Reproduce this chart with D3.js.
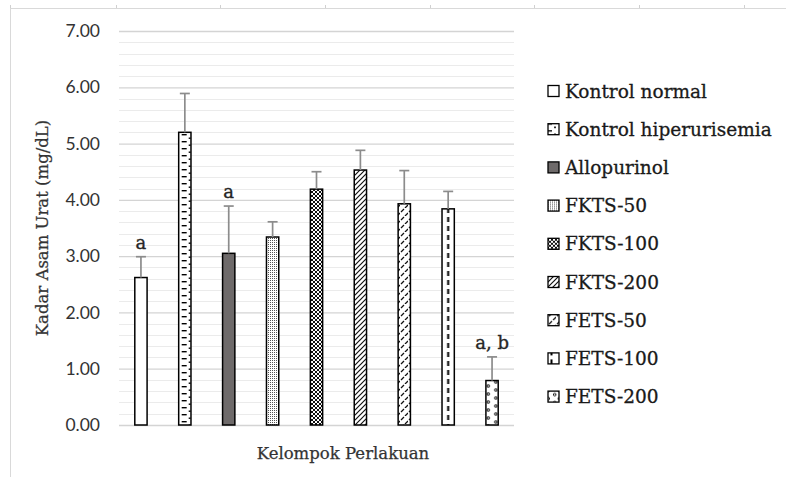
<!DOCTYPE html>
<html>
<head>
<meta charset="utf-8">
<script src="https://cdn.jsdelivr.net/npm/d3@7"></script>
<style>
  html, body { margin: 0; padding: 0; background: #fff; }
  svg { display: block; }
</style>
</head>
<body>
<div id="chart"></div>
<script>
// ---- data ----
const categories = ["Kontrol normal", "Kontrol hiperurisemia", "Allopurinol", "FKTS-50", "FKTS-100", "FKTS-200", "FETS-50", "FETS-100", "FETS-200"];
const means = [2.62, 5.20, 3.05, 3.34, 4.19, 4.53, 3.93, 3.84, 0.79];
const sds = [0.37, 0.69, 0.84, 0.27, 0.31, 0.35, 0.59, 0.31, 0.42];
const notes = ["a", "", "a", "", "", "", "", "", "a, b"];
const yTicks = [0, 1, 2, 3, 4, 5, 6, 7];
const patternNames = ["white", "hdash", "solid", "dots", "diamond", "diag", "dashdiag", "vdash", "circ"];

const W = 786, H = 477;
const svg = d3.select("#chart").append("svg").attr("width", W).attr("height", H);

const serif = "'DejaVu Serif', serif";
const sans = "Lato, 'Open Sans', sans-serif";

// ---- scales ----
const x = d3.scaleBand().domain(categories).range([119, 514]).paddingInner(0.72).paddingOuter(0.36);
const y = d3.scaleLinear().domain([0, 7]).range([425, 31]);

// ---- patterns (one set for bars, one for legend swatches, aligned to their box) ----
const defs = svg.append("defs");
function makePatterns(suffix, originX, boxW) {
  function pat(name, w, h, draw, bg, px) {
    const p = defs.append("pattern").attr("id", name + suffix).attr("patternUnits", "userSpaceOnUse")
      .attr("x", px || 0).attr("width", w).attr("height", h);
    p.append("rect").attr("width", w).attr("height", h).attr("fill", bg || "#fff");
    draw(p);
  }
  pat("white", 4, 4, p => {});
  pat("solid", 4, 4, p => {}, "#6e6a6a");
  pat("hdash", 12, 7, p => {
    p.append("rect").attr("x", 3).attr("y", 1).attr("width", 5).attr("height", 1.4).attr("fill", "#000");
    p.append("rect").attr("x", 10).attr("y", 4.5).attr("width", 4).attr("height", 1.4).attr("fill", "#000");
    p.append("rect").attr("x", -2).attr("y", 4.5).attr("width", 2).attr("height", 1.4).attr("fill", "#000");
  }, null, originX("hdash"));
  pat("dots", 2, 2, p => {
    p.append("rect").attr("x", 0).attr("y", 0).attr("width", 1).attr("height", 1).attr("fill", "#555");
  });
  pat("diamond", 4, 4, p => {
    p.append("path").attr("d", "M0,0L4,4M4,0L0,4").attr("stroke", "#111").attr("stroke-width", 1);
  });
  pat("diag", 5, 5, p => {
    p.append("path").attr("d", "M-1,6L6,-1M-1,1L1,-1M4,6L6,4").attr("stroke", "#111").attr("stroke-width", 1.2);
  });
  pat("dashdiag", 8, 8, p => {
    p.append("path").attr("d", "M1,4L4,1M5,8L8,5").attr("stroke", "#111").attr("stroke-width", 1.3);
  });
  pat("vdash", boxW, 9, p => {
    p.append("rect").attr("x", boxW / 2 - 1).attr("y", 1).attr("width", 2).attr("height", 5).attr("fill", "#000");
  }, null, originX("vdash"));
  pat("circ", boxW, 8, p => {
    p.append("circle").attr("cx", 2.3).attr("cy", 2).attr("r", 1.3).attr("fill", "none").attr("stroke", "#111").attr("stroke-width", 1);
    p.append("circle").attr("cx", boxW - 2.3).attr("cy", 6).attr("r", 1.3).attr("fill", "none").attr("stroke", "#111").attr("stroke-width", 1);
  }, null, originX("circ"));
}
makePatterns("-bar", name => x(categories[patternNames.indexOf(name)]), x.bandwidth());
const legendX = 548, swatch = 11;
makePatterns("-leg", name => legendX, swatch);

// ---- frame (spreadsheet edges) ----
svg.append("line").attr("x1", 10).attr("x2", W).attr("y1", 8.5).attr("y2", 8.5).attr("stroke", "#d9d9d9").attr("stroke-width", 1);
svg.append("line").attr("x1", 10.5).attr("x2", 10.5).attr("y1", 8).attr("y2", H).attr("stroke", "#d9d9d9").attr("stroke-width", 1);
[10, 116, 220, 325, 430, 534, 639, 744].forEach(xx => {
  svg.append("line").attr("x1", xx + 0.5).attr("x2", xx + 0.5).attr("y1", 5).attr("y2", 8).attr("stroke", "#d0d0d0");
});

// minor gridlines
const minor = d3.range(0, 7.001, 0.2).filter(v => Math.abs(v - Math.round(v)) > 1e-6);
svg.append("g").selectAll("line").data(minor).join("line")
  .attr("x1", 119).attr("x2", 514)
  .attr("y1", d => Math.round(y(d)) + 0.5).attr("y2", d => Math.round(y(d)) + 0.5)
  .attr("stroke", "#ebebeb").attr("stroke-width", 1);

// y axis with major gridlines
const yAxis = d3.axisLeft(y).tickValues(yTicks).tickFormat(d3.format(".2f")).tickSize(-(514 - 119)).tickPadding(19);
const gy = svg.append("g").attr("transform", "translate(119,0)").call(yAxis);
gy.select(".domain").remove();
gy.selectAll(".tick line").attr("stroke", "#d4d4d4").attr("stroke-width", 1.3);
gy.selectAll(".tick text").attr("font-family", sans).attr("font-size", 17.5).attr("fill", "#333");

// ---- bars ----
svg.append("g").selectAll("rect").data(categories).join("rect")
  .attr("x", d => x(d))
  .attr("y", (d, i) => y(means[i]))
  .attr("width", x.bandwidth())
  .attr("height", (d, i) => y(0) - y(means[i]))
  .attr("fill", (d, i) => `url(#${patternNames[i]}-bar)`)
  .attr("stroke", "#000").attr("stroke-width", 1.5);

// error bars
const eb = svg.append("g").attr("stroke", "#8c8c8c").attr("stroke-width", 1.7);
categories.forEach((c, i) => {
  const cx = x(c) + x.bandwidth() / 2;
  eb.append("line").attr("x1", cx).attr("x2", cx).attr("y1", y(means[i])).attr("y2", y(means[i] + sds[i]));
  eb.append("line").attr("x1", cx - 5).attr("x2", cx + 5).attr("y1", y(means[i] + sds[i])).attr("y2", y(means[i] + sds[i]));
});

// notes
svg.append("g").selectAll("text").data(categories).join("text")
  .attr("x", d => x(d) + x.bandwidth() / 2)
  .attr("y", (d, i) => y(means[i] + sds[i]) - 8)
  .attr("text-anchor", "middle")
  .attr("font-family", serif).attr("font-size", 18).attr("fill", "#262626")
  .attr("stroke", "#262626").attr("stroke-width", 0.35)
  .text((d, i) => notes[i]);

// axis titles
svg.append("text").attr("transform", "translate(48,228) rotate(-90)")
  .attr("text-anchor", "middle").attr("font-family", serif).attr("font-size", 16.5).attr("fill", "#333")
  .attr("stroke", "#333").attr("stroke-width", 0.25)
  .text("Kadar Asam Urat (mg/dL)");
svg.append("text").attr("x", 343).attr("y", 459)
  .attr("text-anchor", "middle").attr("font-family", serif).attr("font-size", 16.5).attr("fill", "#333")
  .attr("stroke", "#333").attr("stroke-width", 0.25)
  .text("Kelompok Perlakuan");

// ---- legend ----
const lg = svg.append("g").attr("transform", `translate(${legendX},0)`);
const rows = lg.selectAll("g").data(categories).join("g")
  .attr("transform", (d, i) => `translate(0,${91 + i * 38.2})`);
rows.append("rect").attr("x", 0).attr("y", -5.5).attr("width", swatch).attr("height", swatch)
  .attr("fill", (d, i) => `url(#${patternNames[i]}-leg)`).attr("stroke", "#000").attr("stroke-width", 1.3);
rows.append("text").attr("x", 17).attr("y", 6.5)
  .attr("font-family", serif).attr("font-size", 18.5).attr("fill", "#1a1a1a")
  .attr("stroke", "#1a1a1a").attr("stroke-width", 0.3)
  .text(d => d);
</script>
</body>
</html>
